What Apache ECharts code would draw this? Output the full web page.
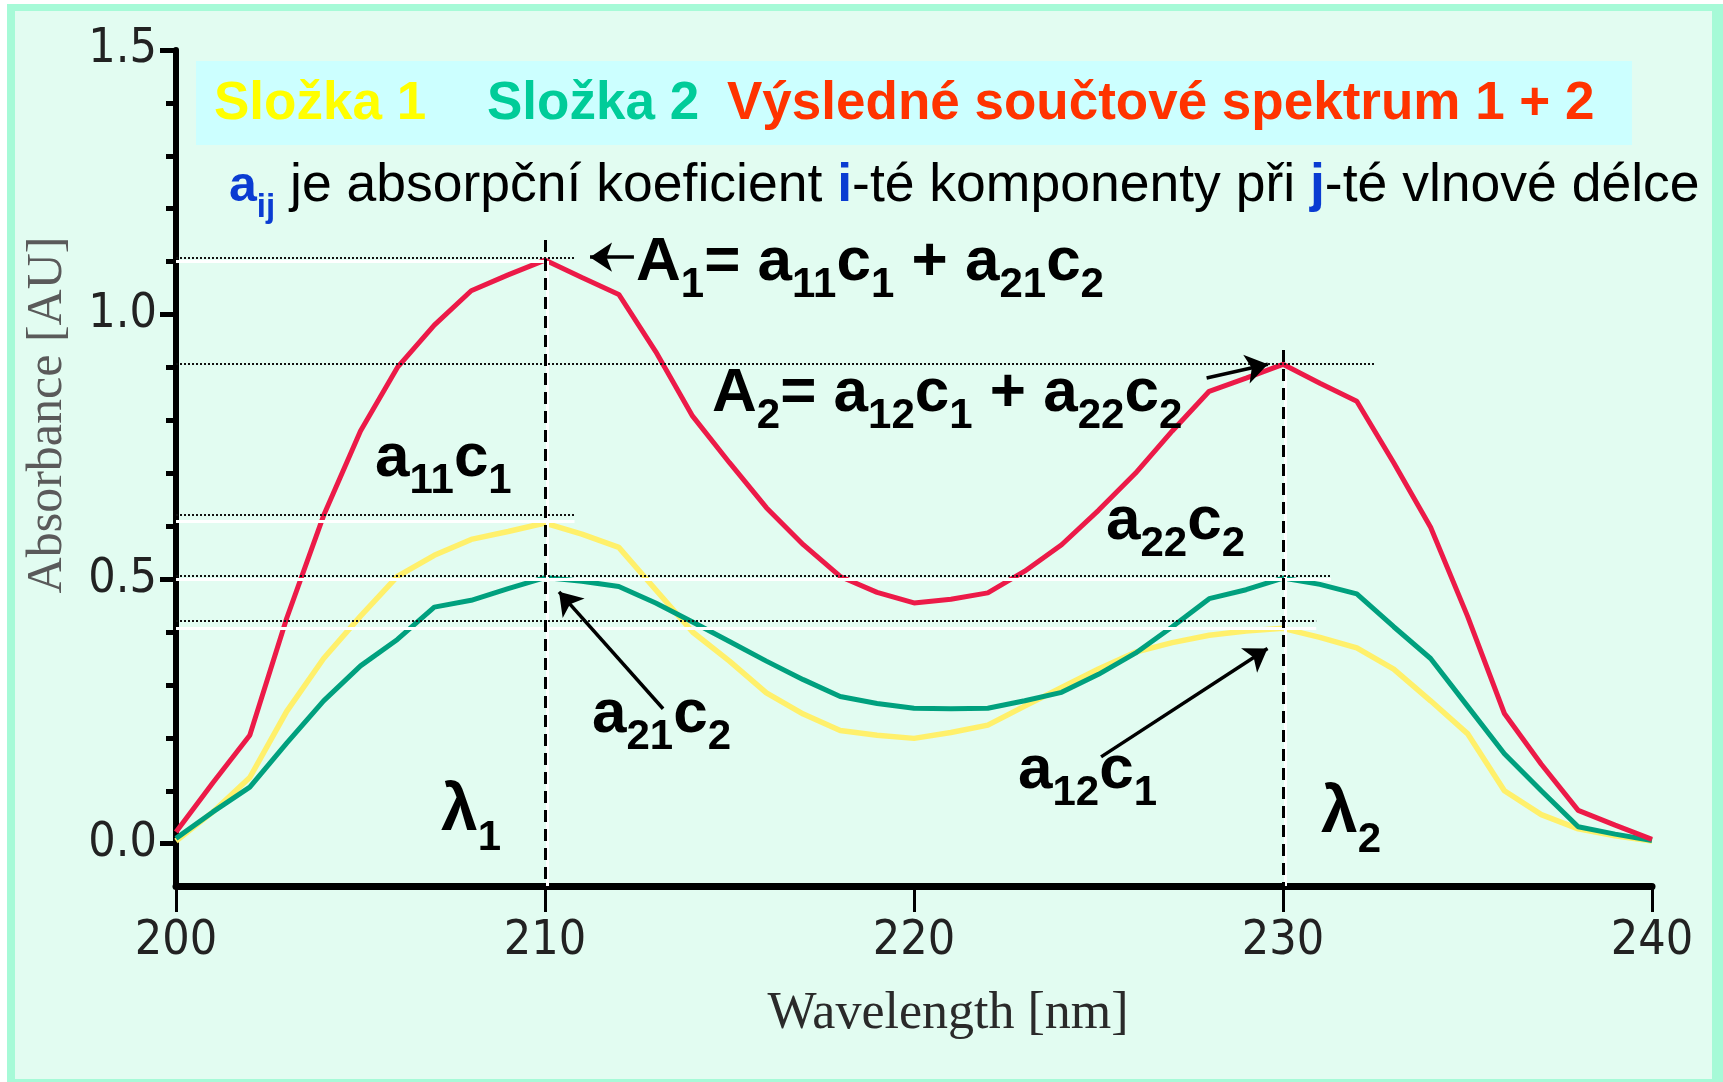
<!DOCTYPE html>
<html>
<head>
<meta charset="utf-8">
<title>Složka 1 + Složka 2</title>
<script src="https://cdn.jsdelivr.net/npm/echarts@6/dist/echarts.min.js"></script>
<style>
  html, body { margin: 0; padding: 0; background: #fff; }
  #chart { width: 1723px; height: 1082px; }
</style>
</head>
<body>
<div id="chart"></div>
<script>
// vlnová délka [nm]
const wavelengths = [200, 201, 202, 203, 204, 205, 206, 207, 208, 209, 210,
    211, 212, 213, 214, 215, 216, 217, 218, 219, 220,
    221, 222, 223, 224, 225, 226, 227, 228, 229, 230,
    231, 232, 233, 234, 235, 236, 237, 238, 239, 240];

// Složka 1 (žlutá)
const slozka1 = [0.005, 0.06, 0.125, 0.25, 0.35, 0.43, 0.505, 0.545, 0.575, 0.59, 0.606,
    0.585, 0.56, 0.48, 0.40, 0.345, 0.285, 0.245, 0.214, 0.205, 0.199,
    0.21, 0.224, 0.26, 0.295, 0.33, 0.362, 0.38, 0.394, 0.402, 0.407,
    0.39, 0.37, 0.33, 0.27, 0.208, 0.10, 0.055, 0.028, 0.015, 0.005];

// Složka 2 (zelená)
const slozka2 = [0.01, 0.06, 0.107, 0.19, 0.27, 0.336, 0.386, 0.447, 0.46, 0.482, 0.503,
    0.496, 0.486, 0.455, 0.419, 0.382, 0.345, 0.31, 0.278, 0.265, 0.256,
    0.255, 0.256, 0.27, 0.286, 0.32, 0.36, 0.41, 0.463, 0.48, 0.502,
    0.49, 0.472, 0.41, 0.35, 0.26, 0.17, 0.10, 0.032, 0.018, 0.006];

// Výsledné součtové spektrum (červená)
const soucet = [0.022, 0.115, 0.205, 0.426, 0.62, 0.78, 0.90, 0.98, 1.045, 1.075, 1.103,
    1.07, 1.038, 0.93, 0.808, 0.72, 0.635, 0.565, 0.505, 0.475, 0.455,
    0.462, 0.474, 0.515, 0.565, 0.63, 0.70, 0.78, 0.855, 0.88, 0.906,
    0.87, 0.836, 0.72, 0.598, 0.43, 0.246, 0.15, 0.063, 0.035, 0.008];

const yMajor = [0, 0.5, 1.0, 1.5];
const yMinor = [0.1, 0.2, 0.3, 0.4, 0.6, 0.7, 0.8, 0.9, 1.1, 1.2, 1.3, 1.4];

// tečkované pomocné čáry: [absorbance, konec na ose x]
const dottedGuides = [[1.108, 210.8], [0.9075, 232.5], [0.621, 210.8], [0.507, 231.3], [0.422, 230.9]];
const whiteGuides = [[1.100, 210.0], [0.609, 210.8], [0.4995, 231.3], [0.4065, 230.9]];
// svislé čáry lambda: [vlnová délka, horní konec]
const lambdaLines = [[210, 1.141], [230, 0.933]];
// šipky: [x od, y od, x do, y do]
const arrows = [
    [212.41, 1.1085, 211.22, 1.1085],
    [227.93, 0.880, 229.59, 0.906],
    [213.20, 0.255, 210.38, 0.476],
    [225.07, 0.164, 229.58, 0.369]
];

const SANS = '"Liberation Sans", Arial, Helvetica, sans-serif';
const NARROW = '"Liberation Sans Narrow", "Arial Narrow", "DejaVu Sans Condensed", sans-serif';
const SERIF = '"Liberation Serif", "Times New Roman", serif';

const RED = '#ec1a48';
const GREEN = '#00a07e';
const YELLOW = '#fff06b';
const BLUE = '#0a3cd2';

function pairs(ys) {
    return wavelengths.map((x, i) => [x, ys[i]]);
}

// text na účaří, s indexy: každý kus posune x o svou šířku
const meas = document.createElement('canvas').getContext('2d');
function textRun(x, base, parts) {
    const els = [];
    parts.forEach(p => {
        const font = (p.w || 'bold') + ' ' + p.s + 'px ' + SANS;
        els.push({
            type: 'text', x: x, y: base + (p.dy || 0) - 0.3465 * p.s, z: 100,
            style: { text: p.t, font: font, fill: p.c || '#000', textAlign: 'left', textVerticalAlign: 'middle' }
        });
        meas.font = font;
        x += meas.measureText(p.t).width;
    });
    return els;
}

function equation(x, base, i) {
    const M = 62, S = 42, D = 16;
    return textRun(x, base, [
        { t: 'A', s: M }, { t: i, s: S, dy: D }, { t: '= a', s: M }, { t: '1' + i, s: S, dy: D },
        { t: 'c', s: M }, { t: '1', s: S, dy: D }, { t: ' + a', s: M }, { t: '2' + i, s: S, dy: D },
        { t: 'c', s: M }, { t: '2', s: S, dy: D }
    ]);
}

function term(x, base, ij, k) {
    return textRun(x, base, [
        { t: 'a', s: 62 }, { t: ij, s: 42, dy: 16 }, { t: 'c', s: 62 }, { t: k, s: 42, dy: 16 }
    ]);
}

const chart = echarts.init(document.getElementById('chart'));

const graphics = [
    { type: 'rect', z: -20, shape: { x: 7, y: 4, width: 1716, height: 1078 }, style: { fill: '#a6fad7' } },
    { type: 'rect', z: -19, shape: { x: 15, y: 11, width: 1697, height: 1068 }, style: { fill: '#e2fcf1' } },
    { type: 'rect', z: -18, shape: { x: 196, y: 61, width: 1436, height: 84 }, style: { fill: '#ccffff' } }
].concat(
    textRun(214, 123, [{ t: 'Složka 1', s: 53, c: '#ffff00' }]),
    textRun(487, 123, [{ t: 'Složka 2', s: 53, c: '#00cc99' }]),
    textRun(727, 123, [{ t: 'Výsledné součtové spektrum 1 + 2', s: 53, c: '#ff3300' }]),
    textRun(229, 205, [
        { t: 'a', s: 50, c: BLUE }, { t: 'ij', s: 33, c: BLUE, dy: 14 },
        { t: ' je absorpční koeficient ', s: 53.5, w: 'normal' },
        { t: 'i', s: 53.5, c: BLUE },
        { t: '-té komponenty při ', s: 53.5, w: 'normal' },
        { t: 'j', s: 53.5, c: BLUE },
        { t: '-té vlnové délce', s: 53.5, w: 'normal' }
    ]),
    equation(636, 284, '1'),
    equation(712, 415, '2'),
    term(375, 480, '11', '1'),
    term(592, 736, '21', '2'),
    term(1106, 543, '22', '2'),
    term(1018, 792, '12', '1'),
    textRun(441, 835, [{ t: 'λ', s: 66 }, { t: '1', s: 42, dy: 18 }]),
    textRun(1321, 837, [{ t: 'λ', s: 66 }, { t: '2', s: 42, dy: 18 }])
);

const option = {
    backgroundColor: '#ffffff',
    animation: false,
    grid: { left: 176, right: 71, top: 50, bottom: 196, containLabel: false },
    xAxis: {
        type: 'value', min: 200, max: 240, interval: 10,
        axisLine: { onZero: false, lineStyle: { color: '#000', width: 7 } },
        axisTick: { length: 26, lineStyle: { color: '#000', width: 3 } },
        axisLabel: { margin: 32, color: '#222', fontSize: 48, fontFamily: NARROW },
        splitLine: { show: false },
        name: 'Wavelength [nm]', nameLocation: 'middle', nameGap: 102,
        nameTextStyle: { fontFamily: SERIF, fontSize: 52, color: '#2a2a2a', padding: [0, 0, 0, 68] }
    },
    yAxis: [
        {
            type: 'value', min: -0.08, max: 1.5,
            axisLine: { show: true, onZero: false, lineStyle: { color: '#000', width: 6 } },
            axisTick: { show: true, customValues: yMinor, length: 10, lineStyle: { color: '#000', width: 5 } },
            axisLabel: {
                customValues: yMajor, formatter: v => v.toFixed(1), margin: 19,
                color: '#222', fontSize: 48, fontFamily: NARROW
            },
            splitLine: { show: false },
            name: 'Absorbance [AU]', nameLocation: 'middle', nameGap: 103,
            nameTextStyle: { fontFamily: SERIF, fontSize: 50, color: '#5a5a5a', padding: [0, 0, 0, 106] }
        },
        {
            type: 'value', min: -0.08, max: 1.5, position: 'left', offset: 0,
            axisLine: { show: false },
            axisTick: { show: true, customValues: yMajor, length: 16, lineStyle: { color: '#000', width: 5 } },
            axisLabel: { show: false },
            splitLine: { show: false }
        }
    ],
    graphic: graphics,
    series: [
        {
            name: 'white', type: 'line', data: [], silent: true,
            markLine: {
                silent: true, symbol: ['none', 'none'], label: { show: false }, emphasis: { disabled: true },
                lineStyle: { color: '#ffffff', width: 3, type: 'solid' },
                data: whiteGuides.map(g => [{ coord: [200, g[0]] }, { coord: [g[1], g[0]] }])
                    .concat(lambdaLines.map(l => [{ coord: [l[0] + 0.07, l[1] - 0.04] }, { coord: [l[0] + 0.07, -0.08] }]))
            }
        },
        {
            name: 'Složka 1', type: 'line', data: pairs(slozka1), showSymbol: false, silent: true,
            lineStyle: { color: YELLOW, width: 5.5 }
        },
        {
            name: 'Složka 2', type: 'line', data: pairs(slozka2), showSymbol: false, silent: true,
            lineStyle: { color: GREEN, width: 5 }
        },
        {
            name: 'Výsledné součtové spektrum 1 + 2', type: 'line', data: pairs(soucet), showSymbol: false, silent: true,
            lineStyle: { color: RED, width: 5 }
        },
        {
            name: 'guides', type: 'line', data: [], silent: true,
            markLine: {
                silent: true, symbol: ['none', 'none'], label: { show: false }, emphasis: { disabled: true },
                data: dottedGuides.map(g => [
                    { coord: [200, g[0]], lineStyle: { color: '#111', width: 2, type: [2, 2] } },
                    { coord: [g[1], g[0]] }
                ]).concat(lambdaLines.map(l => [
                    { coord: [l[0], l[1]], lineStyle: { color: '#000', width: 3, type: [12, 7] } },
                    { coord: [l[0], -0.08] }
                ]))
            }
        },
        {
            name: 'arrows', type: 'line', data: [], silent: true,
            markLine: {
                silent: true, symbol: ['none', 'arrow'], symbolSize: 22, label: { show: false },
                emphasis: { disabled: true },
                lineStyle: { color: '#000', width: 3.5, type: 'solid' },
                data: arrows.map(a => [{ coord: [a[0], a[1]] }, { coord: [a[2], a[3]] }])
            }
        }
    ]
};

chart.setOption(option);
</script>
</body>
</html>
